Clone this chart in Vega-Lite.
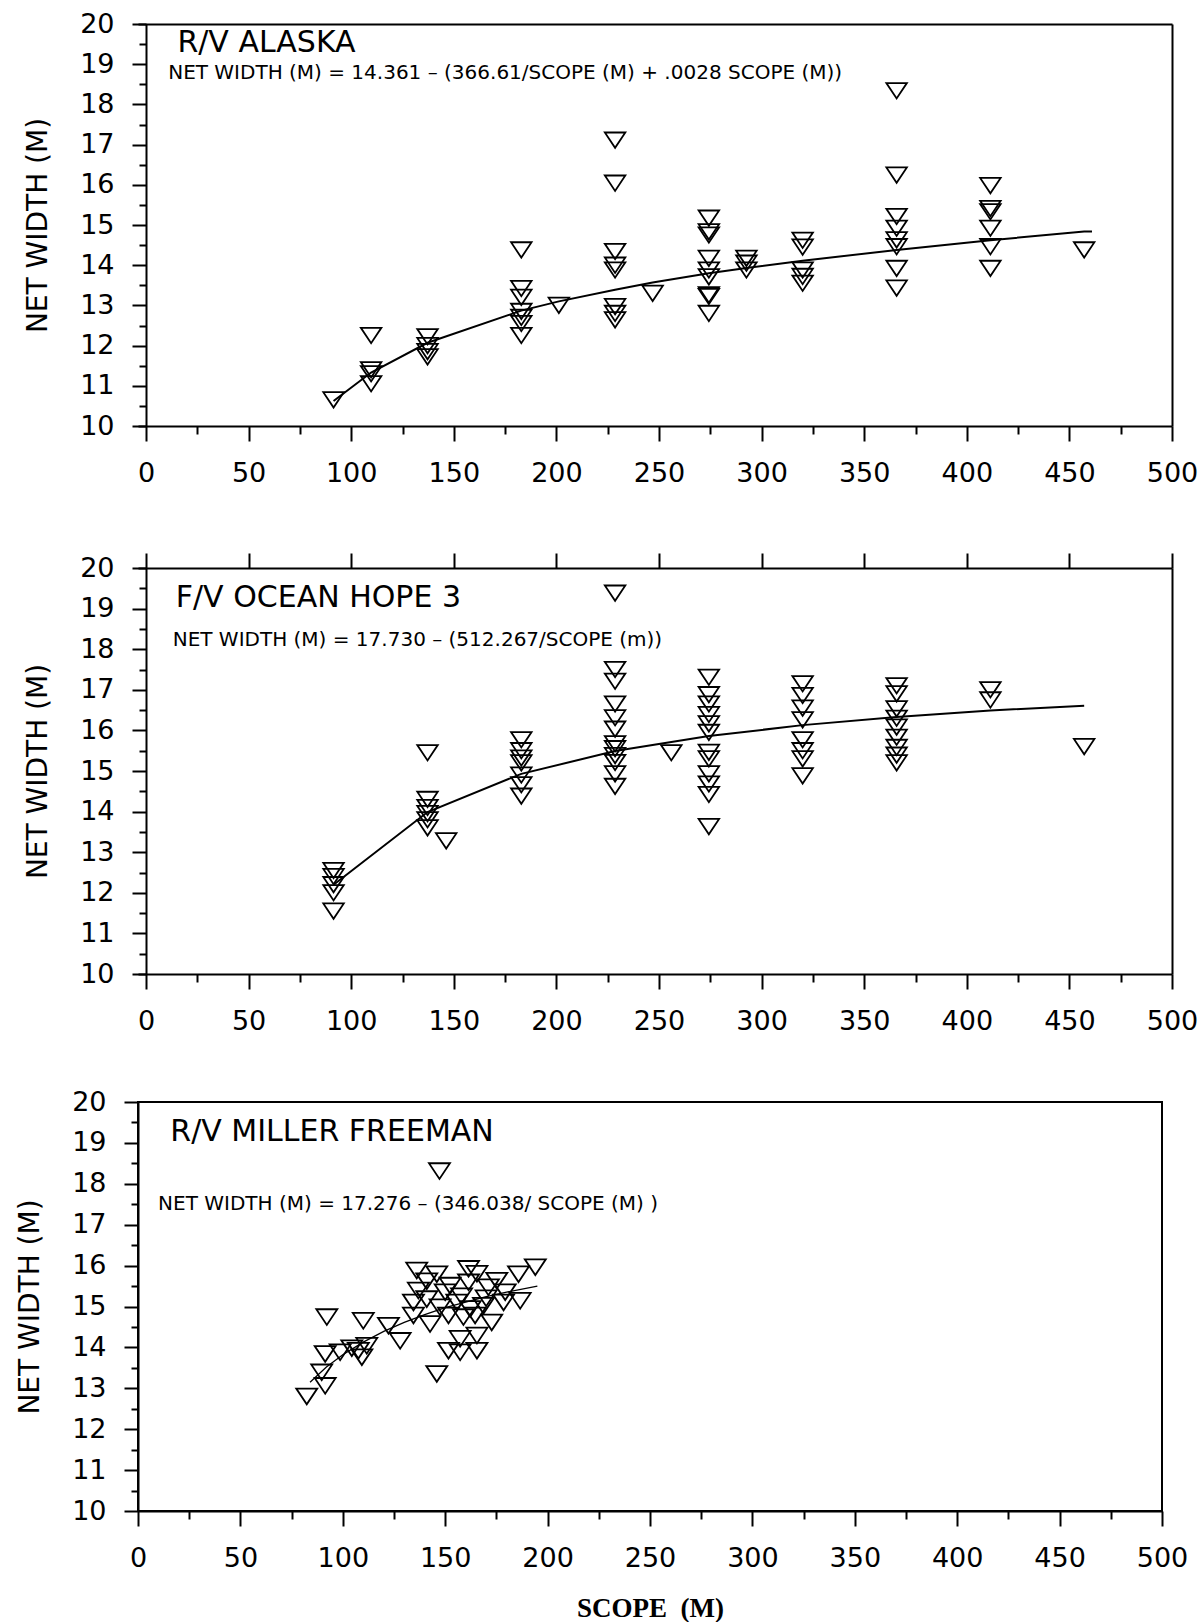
{
  "$schema": "https://vega.github.io/schema/vega-lite/v6.json",
  "background": "white",
  "padding": {"left": 15, "top": 10, "right": 0, "bottom": 0},
  "datasets": {
    "alaska": [
      {"scope": 91.4, "net_width": 10.65},
      {"scope": 109.7, "net_width": 12.25}, {"scope": 109.7, "net_width": 11.4}, {"scope": 109.7, "net_width": 11.3}, {"scope": 109.7, "net_width": 11.05},
      {"scope": 137.2, "net_width": 12.22}, {"scope": 137.2, "net_width": 12.0}, {"scope": 137.2, "net_width": 11.85}, {"scope": 137.2, "net_width": 11.72},
      {"scope": 182.9, "net_width": 14.38}, {"scope": 182.9, "net_width": 13.42}, {"scope": 182.9, "net_width": 13.2}, {"scope": 182.9, "net_width": 12.85}, {"scope": 182.9, "net_width": 12.7}, {"scope": 182.9, "net_width": 12.55}, {"scope": 182.9, "net_width": 12.25},
      {"scope": 201.2, "net_width": 13.0},
      {"scope": 228.6, "net_width": 17.11}, {"scope": 228.6, "net_width": 16.04}, {"scope": 228.6, "net_width": 14.34}, {"scope": 228.6, "net_width": 14.0}, {"scope": 228.6, "net_width": 13.88}, {"scope": 228.6, "net_width": 12.97}, {"scope": 228.6, "net_width": 12.8}, {"scope": 228.6, "net_width": 12.64},
      {"scope": 246.9, "net_width": 13.3},
      {"scope": 274.3, "net_width": 15.17}, {"scope": 274.3, "net_width": 14.83}, {"scope": 274.3, "net_width": 14.75}, {"scope": 274.3, "net_width": 14.17}, {"scope": 274.3, "net_width": 13.88}, {"scope": 274.3, "net_width": 13.71}, {"scope": 274.3, "net_width": 13.26}, {"scope": 274.3, "net_width": 13.22}, {"scope": 274.3, "net_width": 12.8},
      {"scope": 292.6, "net_width": 14.17}, {"scope": 292.6, "net_width": 14.05}, {"scope": 292.6, "net_width": 13.88},
      {"scope": 320.0, "net_width": 14.62}, {"scope": 320.0, "net_width": 14.45}, {"scope": 320.0, "net_width": 13.88}, {"scope": 320.0, "net_width": 13.72}, {"scope": 320.0, "net_width": 13.55},
      {"scope": 365.8, "net_width": 18.34}, {"scope": 365.8, "net_width": 16.24}, {"scope": 365.8, "net_width": 15.21}, {"scope": 365.8, "net_width": 14.92}, {"scope": 365.8, "net_width": 14.63}, {"scope": 365.8, "net_width": 14.46}, {"scope": 365.8, "net_width": 13.92}, {"scope": 365.8, "net_width": 13.43},
      {"scope": 411.5, "net_width": 15.98}, {"scope": 411.5, "net_width": 15.41}, {"scope": 411.5, "net_width": 15.33}, {"scope": 411.5, "net_width": 14.92}, {"scope": 411.5, "net_width": 14.46}, {"scope": 411.5, "net_width": 13.92},
      {"scope": 457.2, "net_width": 14.38}
    ],
    "alaska_fit": [
      {"scope": 91.4, "net_width": 10.62}, {"scope": 109.7, "net_width": 11.33}, {"scope": 137.2, "net_width": 12.07}, {"scope": 182.9, "net_width": 12.87},
      {"scope": 201.2, "net_width": 13.1}, {"scope": 228.6, "net_width": 13.39}, {"scope": 246.9, "net_width": 13.57}, {"scope": 274.3, "net_width": 13.8},
      {"scope": 292.6, "net_width": 13.93}, {"scope": 320.0, "net_width": 14.11}, {"scope": 365.8, "net_width": 14.38}, {"scope": 411.5, "net_width": 14.62},
      {"scope": 457.2, "net_width": 14.84}, {"scope": 461.0, "net_width": 14.84}
    ],
    "oceanhope": [
      {"scope": 91.4, "net_width": 12.55}, {"scope": 91.4, "net_width": 12.4}, {"scope": 91.4, "net_width": 12.2}, {"scope": 91.4, "net_width": 12.0}, {"scope": 91.4, "net_width": 11.55},
      {"scope": 137.2, "net_width": 15.45}, {"scope": 137.2, "net_width": 14.3}, {"scope": 137.2, "net_width": 14.1}, {"scope": 137.2, "net_width": 13.95}, {"scope": 137.2, "net_width": 13.8}, {"scope": 137.2, "net_width": 13.6},
      {"scope": 146.3, "net_width": 13.28},
      {"scope": 182.9, "net_width": 15.77}, {"scope": 182.9, "net_width": 15.5}, {"scope": 182.9, "net_width": 15.32}, {"scope": 182.9, "net_width": 15.2}, {"scope": 182.9, "net_width": 14.9}, {"scope": 182.9, "net_width": 14.66}, {"scope": 182.9, "net_width": 14.38},
      {"scope": 228.6, "net_width": 19.38}, {"scope": 228.6, "net_width": 17.5}, {"scope": 228.6, "net_width": 17.21}, {"scope": 228.6, "net_width": 16.65}, {"scope": 228.6, "net_width": 16.31}, {"scope": 228.6, "net_width": 16.03}, {"scope": 228.6, "net_width": 15.67}, {"scope": 228.6, "net_width": 15.55}, {"scope": 228.6, "net_width": 15.38}, {"scope": 228.6, "net_width": 15.21}, {"scope": 228.6, "net_width": 14.93}, {"scope": 228.6, "net_width": 14.62},
      {"scope": 256.0, "net_width": 15.45},
      {"scope": 274.3, "net_width": 17.31}, {"scope": 274.3, "net_width": 16.88}, {"scope": 274.3, "net_width": 16.65}, {"scope": 274.3, "net_width": 16.39}, {"scope": 274.3, "net_width": 16.16}, {"scope": 274.3, "net_width": 15.95}, {"scope": 274.3, "net_width": 15.46}, {"scope": 274.3, "net_width": 15.3}, {"scope": 274.3, "net_width": 14.93}, {"scope": 274.3, "net_width": 14.68}, {"scope": 274.3, "net_width": 14.42}, {"scope": 274.3, "net_width": 13.63},
      {"scope": 320.0, "net_width": 17.15}, {"scope": 320.0, "net_width": 16.86}, {"scope": 320.0, "net_width": 16.55}, {"scope": 320.0, "net_width": 16.26}, {"scope": 320.0, "net_width": 15.77}, {"scope": 320.0, "net_width": 15.5}, {"scope": 320.0, "net_width": 15.3}, {"scope": 320.0, "net_width": 14.88},
      {"scope": 365.8, "net_width": 17.1}, {"scope": 365.8, "net_width": 16.9}, {"scope": 365.8, "net_width": 16.53}, {"scope": 365.8, "net_width": 16.3}, {"scope": 365.8, "net_width": 16.08}, {"scope": 365.8, "net_width": 15.83}, {"scope": 365.8, "net_width": 15.58}, {"scope": 365.8, "net_width": 15.39}, {"scope": 365.8, "net_width": 15.2},
      {"scope": 411.5, "net_width": 17.0}, {"scope": 411.5, "net_width": 16.75},
      {"scope": 457.2, "net_width": 15.6}
    ],
    "oceanhope_fit": [
      {"scope": 91.4, "net_width": 12.2}, {"scope": 137.2, "net_width": 13.99}, {"scope": 182.9, "net_width": 14.93}, {"scope": 228.6, "net_width": 15.49},
      {"scope": 274.3, "net_width": 15.86}, {"scope": 320.0, "net_width": 16.13}, {"scope": 365.8, "net_width": 16.33}, {"scope": 411.5, "net_width": 16.49},
      {"scope": 457.2, "net_width": 16.61}
    ],
    "miller": [
      {"scope": 147.2, "net_width": 18.31},
      {"scope": 92.2, "net_width": 14.74}, {"scope": 110.0, "net_width": 14.65}, {"scope": 122.3, "net_width": 14.53}, {"scope": 128.0, "net_width": 14.16},
      {"scope": 91.4, "net_width": 13.84}, {"scope": 98.7, "net_width": 13.88}, {"scope": 104.4, "net_width": 13.98}, {"scope": 107.6, "net_width": 13.92}, {"scope": 111.7, "net_width": 14.04}, {"scope": 109.3, "net_width": 13.76},
      {"scope": 89.7, "net_width": 13.39}, {"scope": 91.4, "net_width": 13.06}, {"scope": 82.4, "net_width": 12.8}, {"scope": 145.9, "net_width": 13.35},
      {"scope": 136.1, "net_width": 15.88}, {"scope": 145.9, "net_width": 15.79}, {"scope": 161.4, "net_width": 15.92}, {"scope": 165.5, "net_width": 15.8}, {"scope": 175.2, "net_width": 15.63}, {"scope": 185.8, "net_width": 15.79}, {"scope": 194.0, "net_width": 15.96},
      {"scope": 136.9, "net_width": 15.39}, {"scope": 152.4, "net_width": 15.51}, {"scope": 161.4, "net_width": 15.59}, {"scope": 171.1, "net_width": 15.47}, {"scope": 179.3, "net_width": 15.35}, {"scope": 186.6, "net_width": 15.14},
      {"scope": 141.0, "net_width": 15.62}, {"scope": 150.0, "net_width": 15.35}, {"scope": 158.0, "net_width": 15.25}, {"scope": 170.0, "net_width": 15.2},
      {"scope": 134.5, "net_width": 15.1}, {"scope": 141.0, "net_width": 15.18}, {"scope": 147.5, "net_width": 14.98}, {"scope": 155.7, "net_width": 15.1}, {"scope": 162.2, "net_width": 14.94}, {"scope": 168.7, "net_width": 15.02}, {"scope": 178.5, "net_width": 15.1},
      {"scope": 134.5, "net_width": 14.78}, {"scope": 142.6, "net_width": 14.57}, {"scope": 151.6, "net_width": 14.78}, {"scope": 158.9, "net_width": 14.74}, {"scope": 164.6, "net_width": 14.78}, {"scope": 172.7, "net_width": 14.61},
      {"scope": 157.3, "net_width": 14.21}, {"scope": 165.5, "net_width": 14.29}, {"scope": 151.6, "net_width": 13.92}, {"scope": 157.3, "net_width": 13.88}, {"scope": 165.5, "net_width": 13.92}
    ],
    "miller_fit": [
      {"scope": 84, "net_width": 13.15}, {"scope": 92, "net_width": 13.52}, {"scope": 100, "net_width": 13.82}, {"scope": 110, "net_width": 14.13},
      {"scope": 120, "net_width": 14.39}, {"scope": 130, "net_width": 14.61}, {"scope": 140, "net_width": 14.8}, {"scope": 150, "net_width": 14.97},
      {"scope": 160, "net_width": 15.11}, {"scope": 170, "net_width": 15.24}, {"scope": 180, "net_width": 15.35}, {"scope": 195, "net_width": 15.5}
    ]
  },
  "columns": 1,
  "spacing": 53,
  "concat": [
    {
      "columns": 1,
      "spacing": 66,
      "concat": [
        {
          "width": 1034,
          "height": 402,
          "view": {"stroke": null},
          "resolve": {"axis": {"x": "independent", "y": "independent"}},
          "layer": [
            {
              "data": {"name": "alaska"},
              "mark": {"type": "point", "shape": "M-1,-0.75L1,-0.75L0,0.75Z", "size": 420, "filled": false, "color": "black", "strokeWidth": 1.8, "opacity": 1},
              "encoding": {
                "x": {"field": "scope", "type": "quantitative", "scale": {"domain": [-3.9, 500], "nice": false, "zero": false},
                  "axis": {"orient": "bottom", "values": [0, 50, 100, 150, 200, 250, 300, 350, 400, 450, 500], "tickSize": 15, "labelPadding": 19, "format": "d", "title": null}},
                "y": {"field": "net_width", "type": "quantitative", "scale": {"domain": [10, 20], "nice": false, "zero": false},
                  "axis": {"orient": "left", "offset": -8, "values": [10, 11, 12, 13, 14, 15, 16, 17, 18, 19, 20], "tickSize": 14, "labelPadding": 18, "format": "d", "title": "NET WIDTH (M)", "titlePadding": 26.7}}
              }
            },
            {
              "data": {"name": "alaska_fit"},
              "mark": {"type": "line", "color": "black", "strokeWidth": 2},
              "encoding": {
                "x": {"field": "scope", "type": "quantitative", "axis": {"orient": "bottom", "values": [25, 75, 125, 175, 225, 275, 325, 375, 425, 475], "tickSize": 8, "labels": false, "domain": false, "title": null}},
                "y": {"field": "net_width", "type": "quantitative", "axis": {"orient": "left", "offset": -8, "values": [10.5, 11.5, 12.5, 13.5, 14.5, 15.5, 16.5, 17.5, 18.5, 19.5], "tickSize": 7, "labels": false, "domain": false, "title": null}}
              }
            },
            {
              "data": {"values": [{"label": "R/V ALASKA"}]},
              "mark": {"type": "text", "align": "left", "baseline": "alphabetic", "font": "DejaVu Sans", "fontSize": 30, "color": "black"},
              "encoding": {"x": {"datum": 15.3, "type": "quantitative", "axis": {"orient": "top", "ticks": false, "labels": false, "domain": true, "title": null}}, "y": {"datum": 19.3, "type": "quantitative", "axis": null}, "text": {"field": "label"}}
            },
            {
              "data": {"values": [{"label": "NET WIDTH (M) = 14.361 – (366.61/SCOPE (M) + .0028 SCOPE (M))"}]},
              "mark": {"type": "text", "align": "left", "baseline": "alphabetic", "font": "DejaVu Sans", "fontSize": 20, "color": "black"},
              "encoding": {"x": {"datum": 10.8, "type": "quantitative", "axis": null}, "y": {"datum": 18.62, "type": "quantitative", "axis": {"orient": "right", "ticks": false, "labels": false, "domain": true, "title": null}}, "text": {"field": "label"}}
            }
          ]
        },
        {
          "width": 1034,
          "height": 406,
          "view": {"stroke": null},
          "resolve": {"axis": {"x": "independent", "y": "independent"}},
          "layer": [
            {
              "data": {"name": "oceanhope"},
              "mark": {"type": "point", "shape": "M-1,-0.75L1,-0.75L0,0.75Z", "size": 420, "filled": false, "color": "black", "strokeWidth": 1.8, "opacity": 1},
              "encoding": {
                "x": {"field": "scope", "type": "quantitative", "scale": {"domain": [-3.9, 500], "nice": false, "zero": false},
                  "axis": {"orient": "bottom", "values": [0, 50, 100, 150, 200, 250, 300, 350, 400, 450, 500], "tickSize": 15, "labelPadding": 19, "format": "d", "title": null}},
                "y": {"field": "net_width", "type": "quantitative", "scale": {"domain": [10, 20], "nice": false, "zero": false},
                  "axis": {"orient": "left", "offset": -8, "values": [10, 11, 12, 13, 14, 15, 16, 17, 18, 19, 20], "tickSize": 14, "labelPadding": 18, "format": "d", "title": "NET WIDTH (M)", "titlePadding": 26.7}}
              }
            },
            {
              "data": {"name": "oceanhope_fit"},
              "mark": {"type": "line", "color": "black", "strokeWidth": 2},
              "encoding": {
                "x": {"field": "scope", "type": "quantitative", "axis": {"orient": "bottom", "values": [25, 75, 125, 175, 225, 275, 325, 375, 425, 475], "tickSize": 8, "labels": false, "domain": false, "title": null}},
                "y": {"field": "net_width", "type": "quantitative", "axis": {"orient": "left", "offset": -8, "values": [10.5, 11.5, 12.5, 13.5, 14.5, 15.5, 16.5, 17.5, 18.5, 19.5], "tickSize": 7, "labels": false, "domain": false, "title": null}}
              }
            },
            {
              "data": {"values": [{"label": "F/V OCEAN HOPE 3"}]},
              "mark": {"type": "text", "align": "left", "baseline": "alphabetic", "font": "DejaVu Sans", "fontSize": 30, "color": "black"},
              "encoding": {"x": {"datum": 14.5, "type": "quantitative", "axis": {"orient": "top", "values": [0, 50, 100, 150, 200, 250, 300, 350, 400, 450, 500], "tickSize": 15, "labels": false, "domain": true, "title": null}}, "y": {"datum": 19.04, "type": "quantitative", "axis": null}, "text": {"field": "label"}}
            },
            {
              "data": {"values": [{"label": "NET WIDTH (M) = 17.730 – (512.267/SCOPE (m))"}]},
              "mark": {"type": "text", "align": "left", "baseline": "alphabetic", "font": "DejaVu Sans", "fontSize": 20, "color": "black"},
              "encoding": {"x": {"datum": 13.0, "type": "quantitative", "axis": null}, "y": {"datum": 18.08, "type": "quantitative", "axis": {"orient": "right", "ticks": false, "labels": false, "domain": true, "title": null}}, "text": {"field": "label"}}
            }
          ]
        }
      ]
    },
    {
      "width": 1024,
      "height": 409,
      "resolve": {"axis": {"x": "independent", "y": "independent"}},
      "layer": [
        {
          "data": {"name": "miller"},
          "mark": {"type": "point", "shape": "M-1,-0.75L1,-0.75L0,0.75Z", "size": 440, "filled": false, "color": "black", "strokeWidth": 1.8, "opacity": 1},
          "encoding": {
            "x": {"field": "scope", "type": "quantitative", "scale": {"domain": [0, 500], "nice": false, "zero": false},
              "axis": {"orient": "bottom", "values": [0, 50, 100, 150, 200, 250, 300, 350, 400, 450, 500], "tickSize": 15, "labelPadding": 19, "format": "d", "title": "SCOPE\u00a0\u00a0(M)", "titleFont": "Liberation Serif", "titleFontWeight": "bold", "titleFontSize": 27, "titlePadding": 24}},
            "y": {"field": "net_width", "type": "quantitative", "scale": {"domain": [10, 20], "nice": false, "zero": false},
              "axis": {"orient": "left", "values": [10, 11, 12, 13, 14, 15, 16, 17, 18, 19, 20], "tickSize": 14, "labelPadding": 18, "format": "d", "title": "NET WIDTH (M)", "titlePadding": 26.7}}
          }
        },
        {
          "data": {"name": "miller_fit"},
          "mark": {"type": "line", "color": "black", "strokeWidth": 1.3},
          "encoding": {
            "x": {"field": "scope", "type": "quantitative", "axis": {"orient": "bottom", "values": [25, 75, 125, 175, 225, 275, 325, 375, 425, 475], "tickSize": 8, "labels": false, "domain": false, "title": null}},
            "y": {"field": "net_width", "type": "quantitative", "axis": {"orient": "left", "values": [10.5, 11.5, 12.5, 13.5, 14.5, 15.5, 16.5, 17.5, 18.5, 19.5], "tickSize": 7, "labels": false, "domain": false, "title": null}}
          }
        },
        {
          "data": {"values": [{"label": "R/V MILLER FREEMAN"}]},
          "mark": {"type": "text", "align": "left", "baseline": "alphabetic", "font": "DejaVu Sans", "fontSize": 30, "color": "black"},
          "encoding": {"x": {"datum": 15.8, "type": "quantitative", "axis": null}, "y": {"datum": 19.05, "type": "quantitative", "axis": null}, "text": {"field": "label"}}
        },
        {
          "data": {"values": [{"label": "NET WIDTH (M) = 17.276 – (346.038/ SCOPE (M) )"}]},
          "mark": {"type": "text", "align": "left", "baseline": "alphabetic", "font": "DejaVu Sans", "fontSize": 20, "color": "black"},
          "encoding": {"x": {"datum": 9.8, "type": "quantitative", "axis": null}, "y": {"datum": 17.35, "type": "quantitative", "axis": null}, "text": {"field": "label"}}
        }
      ]
    }
  ],
  "config": {
    "view": {"stroke": "black", "strokeWidth": 2},
    "axis": {
      "labelFont": "DejaVu Sans", "labelFontSize": 27, "labelColor": "black",
      "tickColor": "black", "domainColor": "black", "tickWidth": 2, "domainWidth": 2, "grid": false,
      "titleFont": "DejaVu Sans", "titleFontSize": 28, "titleFontWeight": "normal", "titleColor": "black",
      "labelFlush": false, "labelOverlap": false
    },
    "text": {"font": "DejaVu Sans", "color": "black"}
  }
}
